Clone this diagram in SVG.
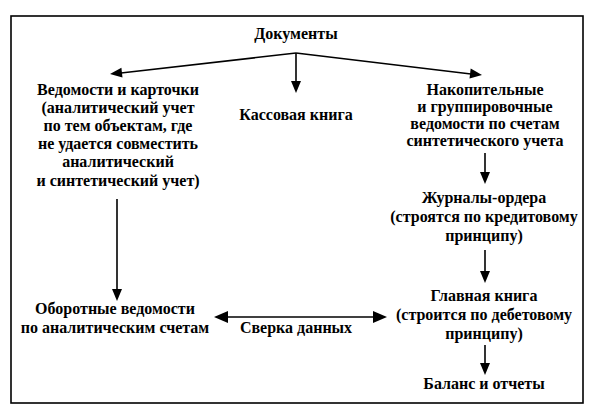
<svg xmlns="http://www.w3.org/2000/svg" width="597" height="412" viewBox="0 0 597 412">
<rect width="597" height="412" fill="#fff"/>
<rect x="11" y="16" width="572" height="387" fill="none" stroke="#000" stroke-width="1.6"/>
<g id="connectors" stroke="#000" stroke-width="1.6" fill="#000">
<line x1="296" y1="53" x2="121" y2="73"/>
<polygon stroke="none" points="110,74 122.5,77.6 121.4,67.7"/>
<line x1="296" y1="53" x2="296" y2="82"/>
<polygon stroke="none" points="296,93 291,81 301,81"/>
<line x1="296" y1="53" x2="471" y2="74"/>
<polygon stroke="none" points="482,75 469.5,78.6 470.7,68.6"/>
<line x1="485" y1="153" x2="485" y2="173"/>
<polygon stroke="none" points="485,184 480,172 490,172"/>
<line x1="485" y1="250" x2="485" y2="272"/>
<polygon stroke="none" points="485,283 480,271 490,271"/>
<line x1="485" y1="345" x2="485" y2="364"/>
<polygon stroke="none" points="485,375 480,363 490,363"/>
<line x1="117" y1="199" x2="117" y2="290"/>
<polygon stroke="none" points="117,301 112,289 122,289"/>
<line x1="226" y1="317" x2="375" y2="317"/>
<polygon stroke="none" points="214,317 228,311 228,323"/>
<polygon stroke="none" points="387,317 373,311 373,323"/>
</g>
<g id="n-docs"><text x="296" y="39" font-family="Liberation Serif, serif" font-size="16" font-weight="bold" text-anchor="middle">Документы</text></g>
<g id="n-vedomosti">
<text x="118" y="95" font-family="Liberation Serif, serif" font-size="16" font-weight="bold" text-anchor="middle">Ведомости и карточки</text>
<text x="118" y="113" font-family="Liberation Serif, serif" font-size="16" font-weight="bold" text-anchor="middle">(аналитический учет</text>
<text x="118" y="131" font-family="Liberation Serif, serif" font-size="16" font-weight="bold" text-anchor="middle">по тем объектам, где</text>
<text x="118" y="149" font-family="Liberation Serif, serif" font-size="16" font-weight="bold" text-anchor="middle">не удается совместить</text>
<text x="118" y="167" font-family="Liberation Serif, serif" font-size="16" font-weight="bold" text-anchor="middle">аналитический</text>
<text x="118" y="186" font-family="Liberation Serif, serif" font-size="16" font-weight="bold" text-anchor="middle">и синтетический учет)</text>
</g>
<g id="n-kassa"><text x="296" y="120" font-family="Liberation Serif, serif" font-size="16" font-weight="bold" text-anchor="middle">Кассовая книга</text></g>
<g id="n-nakop">
<text x="485" y="95" font-family="Liberation Serif, serif" font-size="16" font-weight="bold" text-anchor="middle">Накопительные</text>
<text x="485" y="112" font-family="Liberation Serif, serif" font-size="16" font-weight="bold" text-anchor="middle">и группировочные</text>
<text x="485" y="129" font-family="Liberation Serif, serif" font-size="16" font-weight="bold" text-anchor="middle">ведомости по счетам</text>
<text x="485" y="146" font-family="Liberation Serif, serif" font-size="16" font-weight="bold" text-anchor="middle">синтетического учета</text>
</g>
<g id="n-journal">
<text x="484" y="203" font-family="Liberation Serif, serif" font-size="16" font-weight="bold" text-anchor="middle">Журналы-ордера</text>
<text x="484" y="222" font-family="Liberation Serif, serif" font-size="16" font-weight="bold" text-anchor="middle">(строятся по кредитовому</text>
<text x="484" y="241" font-family="Liberation Serif, serif" font-size="16" font-weight="bold" text-anchor="middle">принципу)</text>
</g>
<g id="n-glavnaya">
<text x="484" y="301" font-family="Liberation Serif, serif" font-size="16" font-weight="bold" text-anchor="middle">Главная книга</text>
<text x="484" y="320" font-family="Liberation Serif, serif" font-size="16" font-weight="bold" text-anchor="middle">(строится по дебетовому</text>
<text x="484" y="339" font-family="Liberation Serif, serif" font-size="16" font-weight="bold" text-anchor="middle">принципу)</text>
</g>
<g id="n-balans"><text x="484" y="389" font-family="Liberation Serif, serif" font-size="16" font-weight="bold" text-anchor="middle">Баланс и отчеты</text></g>
<g id="n-oborot">
<text x="115" y="314" font-family="Liberation Serif, serif" font-size="16" font-weight="bold" text-anchor="middle">Оборотные ведомости</text>
<text x="115" y="333" font-family="Liberation Serif, serif" font-size="16" font-weight="bold" text-anchor="middle">по аналитическим счетам</text>
</g>
<g id="n-sverka"><text x="296" y="333" font-family="Liberation Serif, serif" font-size="16" font-weight="bold" text-anchor="middle">Сверка данных</text></g>
</svg>
